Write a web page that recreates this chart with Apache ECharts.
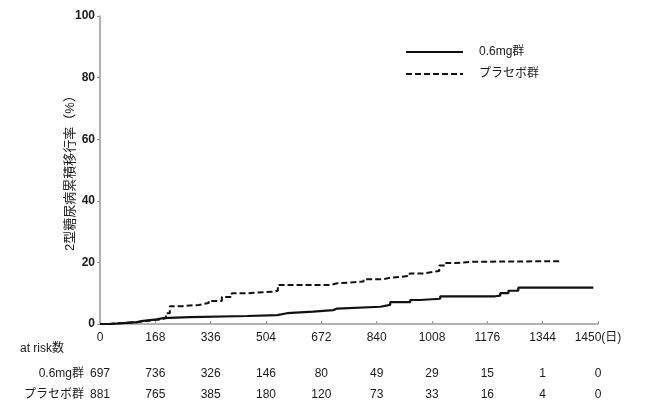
<!DOCTYPE html>
<html>
<head>
<meta charset="utf-8">
<script src="https://cdn.jsdelivr.net/npm/echarts@6/dist/echarts.min.js"></script>
<style>
  html, body { margin: 0; padding: 0; background: #fff; }
  #chart { width: 649px; height: 403px; }
</style>
</head>
<body>
<div id="chart"></div>
<script>
// tick labels (last tick drawn at 9*168 but labelled 1450)
const tickLabels = ['0', '168', '336', '504', '672', '840', '1008', '1176', '1344', '1450(日)']
const riskLow = [697, 736, 326, 146, 80, 49, 29, 15, 1, 0]
const riskPlacebo = [881, 765, 385, 180, 120, 73, 33, 16, 4, 0]

// [day, cumulative %] step points
const lowDose = [
  [0, 0], [30, 0.6], [112, 1.0], [131, 1.5], [173, 1.9], [191, 2.2], [273, 2.6],
  [447, 2.9], [538, 3.5], [568, 4.0], [647, 4.5], [708, 5.0], [720, 5.6],
  [851, 6.2], [881, 7.1], [942, 7.8], [972, 8.2], [1033, 9.0], [1200, 9.2],
  [1215, 10.0], [1240, 10.8], [1270, 11.8], [1498, 11.8]
]
const placebo = [
  [0, 0], [25, 0.6], [110, 1.0], [140, 1.5], [185, 1.9], [200, 3.5], [212, 5.8],
  [250, 6.2], [300, 6.8], [330, 7.5], [370, 8.8], [400, 10.0], [450, 10.5],
  [525, 10.8], [540, 12.7], [700, 13.2], [720, 13.8], [800, 14.5], [860, 15.0],
  [880, 15.6], [940, 16.4], [980, 16.9], [1010, 17.2], [1030, 19.0], [1050, 19.8],
  [1080, 20.2], [1130, 20.4], [1397, 20.5]
]

const FONT = "'Liberation Sans', 'Noto Sans CJK JP', sans-serif"
const TXT = '#1a1a1a'

function riskAxis(name, values, offset) {
  return {
    type: 'value', gridIndex: 0, position: 'bottom', offset: offset,
    min: 0, max: 1512, interval: 168,
    axisLine: { show: false }, axisTick: { show: false }, splitLine: { show: false },
    axisLabel: {
      showMinLabel: true, showMaxLabel: true, margin: 0,
      color: TXT, fontSize: 12, fontFamily: FONT, verticalAlign: 'middle',
      formatter: v => String(values[Math.round(v / 168)])
    },
    name: name, nameLocation: 'start', nameGap: 16,
    nameTextStyle: { color: TXT, fontSize: 12, fontFamily: FONT, verticalAlign: 'middle' }
  }
}

let myChart = echarts.init(document.getElementById('chart'))
myChart.setOption({
  animation: false,
  backgroundColor: '#fff',
  textStyle: { fontFamily: FONT },
  grid: { left: 100, right: 51, top: 16, bottom: 79 },
  legend: {
    orient: 'vertical', left: 405, top: 46, itemGap: 10, padding: 0,
    itemWidth: 57, itemHeight: 12,
    itemStyle: { opacity: 0 },
    textStyle: { color: TXT, fontSize: 12, fontFamily: FONT, padding: [0, 0, 0, 11] },
    data: ['0.6mg群', 'プラセボ群']
  },
  xAxis: [
    {
      type: 'value', min: 0, max: 1512, interval: 168,
      axisLine: { lineStyle: { color: '#9a9a9a', width: 1.5 } },
      axisTick: { show: true, length: 3, inside: true, lineStyle: { color: '#9a9a9a' } },
      splitLine: { show: false },
      axisLabel: {
        showMinLabel: true, showMaxLabel: true, margin: 8,
        color: TXT, fontSize: 12, fontFamily: FONT,
        formatter: v => tickLabels[Math.round(v / 168)]
      }
    },
    Object.assign(riskAxis('at risk数', tickLabels.map(() => ''), 25), { nameGap: 36 }),
    riskAxis('0.6mg群', riskLow, 50),
    riskAxis('プラセボ群', riskPlacebo, 71)
  ],
  yAxis: {
    type: 'value', min: 0, max: 100, interval: 20,
    axisLine: { show: true, lineStyle: { color: '#9a9a9a', width: 1.5 } },
    axisTick: { show: true, length: 3, lineStyle: { color: '#9a9a9a' } },
    splitLine: { show: false },
    axisLabel: { color: TXT, fontSize: 12, fontWeight: 'bold', fontFamily: FONT, margin: 5 },
    name: '2型糖尿病累積移行率（%）', nameLocation: 'middle', nameGap: 23,
    nameMoveOverlap: false,
    nameTextStyle: { color: TXT, fontSize: 13, fontFamily: FONT }
  },
  series: [
    {
      name: '0.6mg群', type: 'line', step: 'end', data: lowDose,
      symbol: 'none', lineStyle: { color: '#111', width: 2.2 }, itemStyle: { color: '#111' }
    },
    {
      name: 'プラセボ群', type: 'line', step: 'end', data: placebo,
      symbol: 'none', lineStyle: { color: '#111', width: 2, type: [6, 3] }, itemStyle: { color: '#111' }
    }
  ]
})
</script>
</body>
</html>
